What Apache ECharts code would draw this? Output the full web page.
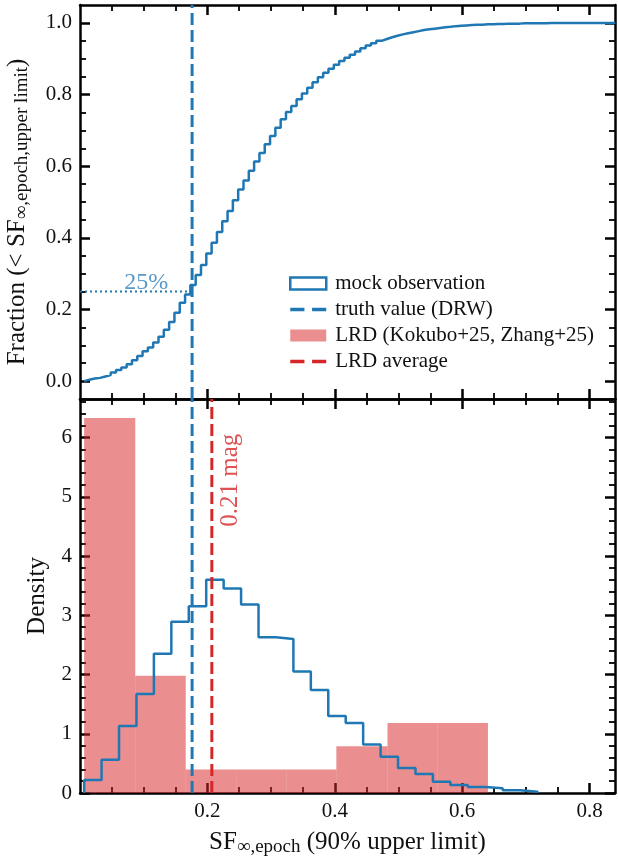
<!DOCTYPE html>
<html>
<head>
<meta charset="utf-8">
<script src="https://cdn.jsdelivr.net/npm/echarts@6/dist/echarts.min.js"></script>
<style>
html, body { margin: 0; padding: 0; background: #fff; }
#chart { width: 618px; height: 858px; }
</style>
</head>
<body>
<div id="chart"></div>
<script>
var FONT = 'Liberation Serif';
var BLUE = '#1f77b4', RED = '#d62728', PINK = 'rgba(214,39,40,0.52)', INK = '#111';

// axis ranges
var xRange = [0, 0.84];
var fracRange = [-0.05, 1.05];
var densRange = [0, 6.65];

// tick positions
var xMajor = [0.2, 0.4, 0.6, 0.8];
var xMinor = [0.05, 0.1, 0.15, 0.25, 0.3, 0.35, 0.45, 0.5, 0.55, 0.65, 0.7, 0.75];
var fracMajor = [0, 0.2, 0.4, 0.6, 0.8, 1.0];
var fracMinor = [0.05, 0.1, 0.15, 0.25, 0.3, 0.35, 0.45, 0.5, 0.55, 0.65, 0.7, 0.75, 0.85, 0.9, 0.95];
var densMajor = [0, 1, 2, 3, 4, 5, 6];
var densMinor = [0.2, 0.4, 0.6, 0.8, 1.2, 1.4, 1.6, 1.8, 2.2, 2.4, 2.6, 2.8, 3.2, 3.4, 3.6, 3.8,
                 4.2, 4.4, 4.6, 4.8, 5.2, 5.4, 5.6, 5.8, 6.2, 6.4, 6.6];

// mock observation, cumulative fraction (top panel), 100 bins
var cdfStart = 0.0065, cdfWidth = 0.00834;
var cdfValues = [
  0.004, 0.007, 0.009, 0.013, 0.017, 0.024, 0.031, 0.038, 0.047, 0.058,
  0.070, 0.083, 0.094, 0.108, 0.124, 0.143, 0.165, 0.191, 0.219, 0.242,
  0.268, 0.296, 0.324, 0.356, 0.386, 0.416, 0.446, 0.475, 0.505, 0.535,
  0.560, 0.587, 0.613, 0.637, 0.661, 0.684, 0.707, 0.731, 0.751, 0.768,
  0.787, 0.803, 0.819, 0.834, 0.848, 0.861, 0.872, 0.883, 0.894, 0.903,
  0.911, 0.920, 0.929, 0.937, 0.943, 0.950, 0.955, 0.960, 0.964, 0.968,
  0.971, 0.974, 0.977, 0.980, 0.982, 0.984, 0.986, 0.988, 0.989, 0.991,
  0.992, 0.993, 0.994, 0.995, 0.995, 0.996, 0.996, 0.997, 0.997, 0.998,
  0.998, 0.998, 0.999, 0.999, 0.999, 0.999, 0.999, 1.000, 1.000, 1.000,
  1.000, 1.000, 1.000, 1.000, 1.000, 1.000, 1.000, 1.000, 1.000, 1.000
];

// mock observation, density (bottom panel)
var mockStart = 0.0065, mockWidth = 0.02738;
var mockDensity = [0.22, 0.56, 1.13, 1.67, 2.35, 2.89, 3.15, 3.60, 3.45, 3.18,
                   2.63, 2.60, 2.05, 1.74, 1.30, 1.18, 0.82, 0.61, 0.42, 0.32,
                   0.19, 0.135, 0.10, 0.08, 0.045, 0.02];

// LRD sample histogram
var lrdEdges = [0.0065, 0.0868, 0.1660, 0.2452, 0.3245, 0.4025, 0.4828, 0.5613, 0.6405];
var lrdDensity = [6.33, 1.98, 0.395, 0.395, 0.395, 0.79, 1.18, 1.18];

var truthValue = 0.176;
var lrdAverage = 0.207;
var quartileLevel = 0.25;
var quartileLabelX = 0.104;
var avgLabelPos = [0.236, 5.28];

function stepPoints(start, width, values, close) {
  var pts = [[start, 0]];
  for (var i = 0; i < values.length; i++) pts.push([start + i * width, values[i]]);
  var end = start + values.length * width;
  pts.push([end, values[values.length - 1]]);
  if (close) pts.push([end, 0]);
  return pts;
}

function axis(grid, pos, range, ticks, len, w, showLine, fmt, margin) {
  return {
    type: 'value', gridIndex: grid, position: pos, min: range[0], max: range[1],
    axisLine: { show: showLine, onZero: false, lineStyle: { color: '#000', width: 2.5 } },
    axisTick: { show: true, inside: true, length: len, customValues: ticks,
                lineStyle: { color: '#000', width: w } },
    axisLabel: { show: !!fmt, customValues: ticks, formatter: fmt, margin: margin || 8,
                 fontFamily: FONT, fontSize: 21, color: INK },
    splitLine: { show: false }
  };
}
function f1(v) { return v.toFixed(1); }
function f0(v) { return String(Math.round(v)); }

var nameRich = {
  n: { fontFamily: FONT, fontSize: 25, lineHeight: 30, color: INK },
  s: { fontFamily: FONT, fontSize: 19, lineHeight: 19, padding: [9, 0, 0, 0], verticalAlign: 'bottom', color: INK }
};

var xAxes = [
  axis(0, 'bottom', xRange, xMajor, 10, 2.5, true, null),
  axis(0, 'bottom', xRange, xMinor, 6, 1.8, false, null),
  axis(0, 'top', xRange, xMajor, 10, 2.5, true, null),
  axis(0, 'top', xRange, xMinor, 6, 1.8, false, null),
  axis(1, 'bottom', xRange, xMajor, 10, 2.5, true, f1, 8),
  axis(1, 'bottom', xRange, xMinor, 6, 1.8, false, null),
  axis(1, 'top', xRange, xMajor, 10, 2.5, true, null),
  axis(1, 'top', xRange, xMinor, 6, 1.8, false, null)
];
xAxes[4].name = '{n|SF}{s|\u221e,epoch}{n| (90% upper limit)}';
xAxes[4].nameLocation = 'middle';
xAxes[4].nameGap = 34;
xAxes[4].nameTextStyle = { rich: nameRich };

var yAxes = [
  axis(0, 'left', fracRange, fracMajor, 10, 2.5, true, f1),
  axis(0, 'left', fracRange, fracMinor, 6, 1.8, false, null),
  axis(0, 'right', fracRange, fracMajor, 10, 2.5, true, null),
  axis(0, 'right', fracRange, fracMinor, 6, 1.8, false, null),
  axis(1, 'left', densRange, densMajor, 10, 2.5, true, f0),
  axis(1, 'left', densRange, densMinor, 6, 1.8, false, null),
  axis(1, 'right', densRange, densMajor, 10, 2.5, true, null),
  axis(1, 'right', densRange, densMinor, 6, 1.8, false, null)
];
yAxes[0].name = '{n|Fraction (< SF}{s|\u221e,epoch,upper limit}{n|)}';
yAxes[0].nameLocation = 'middle';
yAxes[0].nameRotate = 90;
yAxes[0].nameGap = 48;
yAxes[0].nameTextStyle = { rich: nameRich, padding: [0, 20, 0, 0] };
yAxes[4].name = '{n|Density}';
yAxes[4].nameLocation = 'middle';
yAxes[4].nameRotate = 90;
yAxes[4].nameGap = 28;
yAxes[4].nameTextStyle = { rich: nameRich };

var lrdData = [];
for (var i = 0; i < lrdDensity.length; i++) lrdData.push([lrdEdges[i], lrdEdges[i + 1], lrdDensity[i]]);

var dashIcon = 'path://M0,0h13v3h-13zM20,0h13v3h-13z';

var myChart = echarts.init(document.getElementById('chart'));
var option = {
  animation: false,
  backgroundColor: '#fff',
  grid: [
    { left: 80, right: 3, top: 5, height: 394, outerBoundsMode: 'none' },
    { left: 80, right: 3, top: 399, height: 394, outerBoundsMode: 'none' }
  ],
  xAxis: xAxes,
  yAxis: yAxes,
  legend: {
    orient: 'vertical', left: 284, top: 268, itemWidth: 36, itemHeight: 12, itemGap: 5,
    selectedMode: false,
    textStyle: { fontFamily: FONT, fontSize: 21, color: INK, lineHeight: 20, padding: [0, 0, 0, 4] },
    data: [
      { name: 'mock observation', icon: 'rect', itemStyle: { color: '#fff', borderColor: BLUE, borderWidth: 2.5 } },
      { name: 'truth value (DRW)', icon: dashIcon, itemStyle: { color: BLUE, borderWidth: 0 } },
      { name: 'LRD (Kokubo+25, Zhang+25)', icon: 'rect', itemStyle: { color: PINK, borderWidth: 0 } },
      { name: 'LRD average', icon: dashIcon, itemStyle: { color: RED, borderWidth: 0 } }
    ]
  },
  series: [
    {
      name: 'mock observation', type: 'line', xAxisIndex: 0, yAxisIndex: 0, step: 'end',
      symbol: 'none', color: BLUE, lineStyle: { color: BLUE, width: 2.5 }, z: 3,
      data: stepPoints(cdfStart, cdfWidth, cdfValues, false)
    },
    {
      name: 'truth value (DRW)', type: 'line', xAxisIndex: 0, yAxisIndex: 0, symbol: 'none',
      color: BLUE, lineStyle: { color: BLUE, width: 3, type: [12, 5] }, z: 4,
      data: [[truthValue, fracRange[0]], [truthValue, fracRange[1]]]
    },
    {
      name: 'quartile', type: 'line', xAxisIndex: 0, yAxisIndex: 0, symbol: 'none',
      lineStyle: { color: BLUE, width: 2, type: [2, 3] }, z: 3,
      data: [[xRange[0], quartileLevel], [truthValue, quartileLevel]]
    },
    {
      name: 'quartile label', type: 'scatter', xAxisIndex: 0, yAxisIndex: 0, symbolSize: 0,
      label: { show: true, position: 'top', distance: -3, formatter: Math.round(quartileLevel * 100) + '%',
               fontFamily: FONT, fontSize: 24, color: '#2f80bc' },
      data: [[quartileLabelX, quartileLevel]]
    },
    {
      name: 'LRD (Kokubo+25, Zhang+25)', type: 'custom', xAxisIndex: 4, yAxisIndex: 4, z: 1,
      encode: { x: [0, 1], y: 2 },
      itemStyle: { color: PINK },
      renderItem: function (params, api) {
        var p0 = api.coord([api.value(0), api.value(2)]);
        var p1 = api.coord([api.value(1), 0]);
        return { type: 'rect', shape: { x: p0[0], y: p0[1], width: p1[0] - p0[0], height: p1[1] - p0[1] },
                 style: { fill: PINK } };
      },
      data: lrdData
    },
    {
      name: 'mock observation', type: 'line', xAxisIndex: 4, yAxisIndex: 4, step: 'end',
      symbol: 'none', color: BLUE, lineStyle: { color: BLUE, width: 2.5 }, z: 3,
      data: stepPoints(mockStart, mockWidth, mockDensity, true)
    },
    {
      name: 'truth value (DRW)', type: 'line', xAxisIndex: 4, yAxisIndex: 4, symbol: 'none',
      color: BLUE, lineStyle: { color: BLUE, width: 3, type: [12, 5] }, z: 4,
      data: [[truthValue, densRange[0]], [truthValue, densRange[1]]]
    },
    {
      name: 'LRD average', type: 'line', xAxisIndex: 4, yAxisIndex: 4, symbol: 'none',
      color: RED, lineStyle: { color: RED, width: 3, type: [12, 5] }, z: 4,
      data: [[lrdAverage, densRange[0]], [lrdAverage, densRange[1]]]
    },
    {
      name: 'average label', type: 'scatter', xAxisIndex: 4, yAxisIndex: 4, symbolSize: 0,
      label: { show: true, position: 'inside', rotate: 90, formatter: lrdAverage.toFixed(2) + ' mag',
               fontFamily: FONT, fontSize: 25, color: RED },
      data: [avgLabelPos]
    }
  ]
};
myChart.setOption(option);
</script>
</body>
</html>
